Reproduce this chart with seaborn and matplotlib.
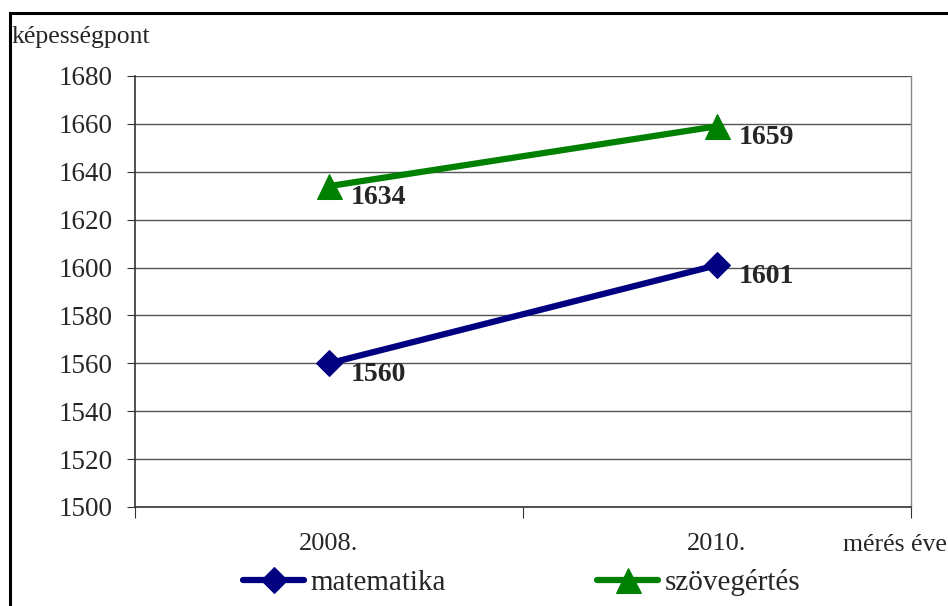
import pandas as pd
import numpy as np
import matplotlib.pyplot as plt
import seaborn as sb
from matplotlib.patches import Rectangle

evek = ["2008.", "2010."]
matematika = [1560, 1601]
szovegertes = [1634, 1659]
sorozatok = ["matematika", "szövegértés"]
szinek = {"matematika": "#000080", "szövegértés": "#008000"}
jelek = {"matematika": "D", "szövegértés": "^"}

df = pd.DataFrame({
    "ev": evek * 2,
    "pont": matematika + szovegertes,
    "terulet": [sorozatok[0]] * 2 + [sorozatok[1]] * 2,
})

sb.set_style("white")
plt.rcParams["font.family"] = ["Liberation Serif", "DejaVu Serif"]

fig = plt.figure(figsize=(9.48, 6.06), dpi=100)
ax = fig.add_axes([0.1424, 0.1634, 0.8186, 0.7112])

for nev in sorozatok:
    resz = df[df.terulet == nev]
    sb.lineplot(data=resz, x="ev", y="pont", ax=ax, color=szinek[nev], lw=4.5,
                marker=jelek[nev], markersize=18 if nev == "szövegértés" else 13,
                markeredgecolor=szinek[nev], label=nev, legend=False, sort=False)
    for i, v in enumerate(resz.pont):
        ax.annotate(str(v), (i, v), xytext=(16, -8), textcoords="offset points",
                    ha="left", va="center", fontsize=20, fontweight="bold")

ax.set_xlim(-0.5, 1.5)
ax.set_ylim(1500, 1680)
ax.set_yticks(np.arange(1500, 1681, 20))
ax.yaxis.grid(True, color="#555555", lw=1)
ax.set_xticks([-0.5, 0.5, 1.5])
ax.set_xticklabels([])
ax.set_xticks([0, 1], minor=True)
ax.set_xticklabels(evek, minor=True)
ax.tick_params(axis="x", which="major", direction="out", length=8, color="#333333", bottom=True)
ax.tick_params(axis="x", which="minor", length=0, pad=19, labelsize=19)
ax.tick_params(axis="y", direction="out", length=6, color="#333333", left=True, labelsize=19.5, pad=10)
ax.set_xlabel("")
ax.set_ylabel("")
for s in ["left", "bottom"]:
    ax.spines[s].set_color("#333333")
    ax.spines[s].set_linewidth(1.2)
ax.spines["right"].set_color("#888888")
ax.spines["right"].set_linewidth(1)
ax.spines["top"].set_visible(False)

fig.text(12 / 948, 1 - 37 / 606, "képességpont", fontsize=18.5, ha="left", va="center")
fig.text(843 / 948, 1 - 545 / 606, "mérés éve", fontsize=18.5, ha="left", va="center")

h, l = ax.get_legend_handles_labels()
fig.legend(h, l, loc="center", bbox_to_anchor=(0.55, 1 - 583 / 606), ncol=2, frameon=False,
           fontsize=21, handlelength=2.1, handletextpad=0.2, columnspacing=5.2)

fig.patches.append(Rectangle((10 / 948, -0.05), 1.2, 1 - 13 / 606 + 0.05, transform=fig.transFigure,
                             fill=False, edgecolor="black", lw=2.2))

plt.savefig("out.png", dpi=100)
